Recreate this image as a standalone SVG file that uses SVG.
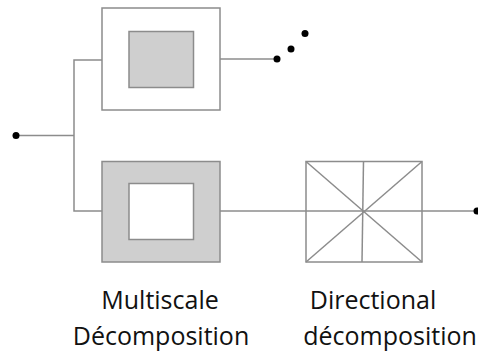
<svg xmlns="http://www.w3.org/2000/svg" width="478" height="353" viewBox="0 0 478 353">
  <style>
    .wire { stroke: #8c8c8c; stroke-width: 1.5; fill: none; }
    .box { stroke: #8c8c8c; stroke-width: 1.5; }
    .light { fill: #ffffff; }
    .shade { fill: #cfcfcf; }
    .dot { fill: #000000; }
    .label { font-family: "Open Sans", "Liberation Sans", sans-serif; font-size: 25px; fill: #111111; text-anchor: middle; }
  </style>

  <!-- connectors -->
  <g id="connectors">
    <polyline class="wire" points="16,135.5 74,135.5"/>
    <polyline class="wire" points="102,60 74,60 74,211 102,211"/>
    <polyline class="wire" points="220,59 277,59"/>
    <polyline class="wire" points="220,211 476,211"/>
    <circle class="dot" cx="16" cy="135.5" r="3.5"/>
    <circle class="dot" cx="277" cy="59" r="3.5"/>
    <circle class="dot" cx="291" cy="49" r="3.5"/>
    <circle class="dot" cx="305" cy="33.5" r="3.5"/>
    <circle class="dot" cx="477" cy="211" r="3.5"/>
  </g>

  <!-- upper multiscale block: white frame, shaded core -->
  <g id="multiscale-top">
    <rect class="box light" x="102" y="8" width="118" height="102"/>
    <rect class="box shade" x="129" y="31.5" width="64.5" height="56"/>
  </g>

  <!-- lower multiscale block: shaded frame, white core -->
  <g id="multiscale-bottom">
    <rect class="box shade" x="102" y="161.5" width="118" height="100.5"/>
    <rect class="box light" x="129" y="183.5" width="64.5" height="56"/>
  </g>

  <!-- directional filter bank: open square, the signal line runs through it -->
  <g id="directional">
    <rect class="box" fill="none" x="306" y="161.5" width="116" height="100.5"/>
    <line class="wire" x1="306" y1="161.5" x2="422" y2="262"/>
    <line class="wire" x1="422" y1="161.5" x2="306" y2="262"/>
    <line class="wire" x1="363.5" y1="161.5" x2="362" y2="262"/>
  </g>

  <!-- captions -->
  <g id="captions">
    <text class="label" x="160" y="309">Multiscale</text>
    <text class="label" x="161" y="345">Décomposition</text>
    <text class="label" x="373" y="309">Directional</text>
    <text class="label" x="390" y="345">décomposition</text>
  </g>
</svg>
